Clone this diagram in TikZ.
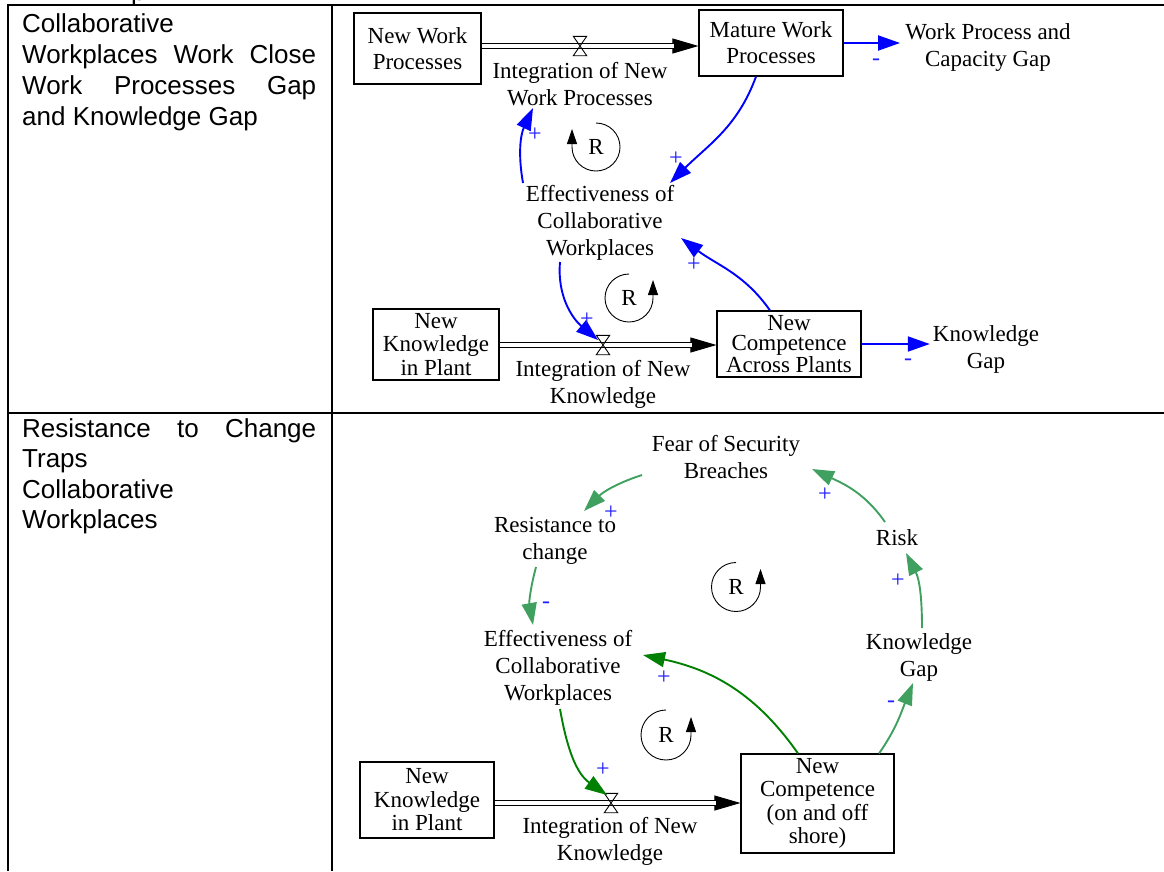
\documentclass[tikz,border=0pt]{standalone}
\usepackage{fontspec}
\setmainfont{Liberation Serif}
\newfontfamily\cellfont{Liberation Sans}
\usetikzlibrary{arrows.meta}

\definecolor{linkblue}{RGB}{0,0,255}
\definecolor{signblue}{RGB}{30,30,255}
\definecolor{linkgreen}{RGB}{64,160,96}
\definecolor{darkgreen}{RGB}{0,128,0}

% hourglass valve on a flow pipe
\newcommand\hourglassvalve[1]{%
  \draw[line width=0.9pt] (#1.north west) -- (#1.north east) -- (#1.south west) -- (#1.south east) -- cycle;}

\tikzset{
  x=1pt, y=1pt,
  var/.style={font=\fontsize{23}{27}\selectfont, align=center, inner sep=1pt},
  stock/.style={draw, line width=1.1pt, inner sep=0pt, align=center, font=\fontsize{23}{26}\selectfont},
  sign/.style={font=\fontsize{24}{24}\selectfont, text=signblue, inner sep=0pt},
  infl/.style={line width=1.9pt, -{Triangle[length=22pt,width=15pt]}},
  bluelink/.style={infl, color=linkblue},
  greenlink/.style={infl, color=linkgreen},
  dgreenlink/.style={infl, color=darkgreen},
  pipe/.style={double, double distance=3.5pt, line width=0.9pt, shorten >=24pt},
  pipetip/.style={line width=0.9pt, -{Triangle[length=26pt,width=15pt]}},
  valve/.style={inner sep=0pt, minimum width=13pt, minimum height=19pt},
  loopR/.style={font=\fontsize{23}{23}\selectfont, inner sep=0pt},
  loopmark/.style={line width=0.9pt, -{Triangle[length=15pt,width=10pt]}},
  rule/.style={line width=2pt},
  celltext/.style={font=\cellfont\fontsize{26}{31}\selectfont, anchor=base west, inner sep=0pt},
}

\begin{document}
\begin{tikzpicture}
\useasboundingbox (0,0) rectangle (1164,-871);

% table rules
\draw[rule] (7,-5) -- (1164,-5);
\draw[rule] (7,-413) -- (1164,-413);
\draw[rule] (8,-4) -- (8,-871);
\draw[rule] (332,-4) -- (332,-871);

% tail of the previous row's text
\begin{scope}
  \clip (0,0) rectangle (1164,-4);
  \node[celltext] (prevtail) at (131,0) {p};
\end{scope}

% left column texts
\node[celltext] (ta) at (22,-32) {Collaborative};
\node[celltext] (tb) at (22,-63) {\hbox to 294pt{Workplaces\hfill Work\hfill Close}};
\node[celltext] (tc) at (22,-94) {\hbox to 294pt{Work\hfill Processes\hfill Gap}};
\node[celltext] (td) at (22,-125) {and Knowledge Gap};

\node[celltext] (ba) at (22,-437) {\hbox to 294pt{Resistance\hfill to\hfill Change}};
\node[celltext] (bb) at (22,-467) {Traps};
\node[celltext] (bc) at (22,-498) {Collaborative};
\node[celltext] (bd) at (22,-528) {Workplaces};

% ---------- upper diagram ----------
\node[stock, minimum width=127pt, minimum height=71pt] (nwp) at (417.5,-48.5) {New Work\\Processes};
\node[stock, minimum width=144pt, minimum height=66pt] (mwp) at (771,-43) {Mature Work\\Processes};
\node[valve] (v1) at (580,-46) {};
\node[var] (flow1) at (580,-84) {Integration of New\\Work Processes};
\node[var] (wpgap) at (988,-47) {Work Process and\\Capacity Gap};
\node[var] (eff1) at (600,-223) {Effectiveness of\\Collaborative\\Workplaces};
\node[stock, minimum width=126pt, minimum height=71pt, font=\fontsize{23}{23.5}\selectfont] (nkp1) at (436,-344.5) {New\\Knowledge\\in Plant};
\node[stock, minimum width=144pt, minimum height=66pt, font=\fontsize{23}{20.5}\selectfont] (ncap) at (789,-344) {New\\Competence\\Across Plants};
\node[valve] (v2) at (603,-345) {};
\node[var] (flow2) at (603,-384) {Integration of New\\Knowledge};
\node[var] (kgap1) at (986,-349) {Knowledge\\Gap};
\node[loopR] (r1) at (596,-147) {R};
\node[loopR] (r2) at (629,-298) {R};

% flows
\draw[pipetip] (nwp.east |- v1.center) -- (mwp.west |- v1.center);
\draw[pipe] (nwp.east |- v1.center) -- (mwp.west |- v1.center);
\hourglassvalve{v1}
\draw[pipetip] (nkp1.east |- v2.center) -- (ncap.west |- v2.center);
\draw[pipe] (nkp1.east |- v2.center) -- (ncap.west |- v2.center);
\hourglassvalve{v2}

% causal links
\draw[bluelink, shorten >=4pt] (mwp.east) -- (mwp.east -| wpgap.west);
\draw[bluelink, shorten >=2pt] (ncap.east) -- (ncap.east -| kgap1.west);
\draw[bluelink] ([xshift=-15pt]mwp.south) to[out=-110,in=45] ([shift={(70pt,40pt)}]eff1.center);
\draw[bluelink] ([shift={(-77pt,40pt)}]eff1.center) to[out=100,in=-115] ([shift={(-47pt,-24pt)}]flow1.center);
\draw[bluelink] ([xshift=-19pt]ncap.north) to[out=125,in=-37] ([shift={(81pt,-15pt)}]eff1.center);
\draw[bluelink] ([shift={(-40pt,-39pt)}]eff1.center) to[out=-95,in=140] ([shift={(-5pt,5pt)}]v2.center);

% polarities
\node[sign] (s1) at (535,-135) {+};
\node[sign] (s2) at (676,-159) {+};
\node[sign] (s3) at (876,-62) {-};
\node[sign] (s4) at (694,-265) {+};
\node[sign] (s5) at (587,-320) {+};
\node[sign] (s6) at (908,-362) {-};

% loop markers
\draw[loopmark] ([shift={(90:24pt)}]r1.center) arc[start angle=90, end angle=-180, radius=24pt] -- ++(0,18pt);
\draw[loopmark] ([shift={(90:24pt)}]r2.center) arc[start angle=90, end angle=360, radius=24pt] -- ++(0,18pt);

% ---------- lower diagram ----------
\node[var] (fear) at (726,-457.5) {Fear of Security\\Breaches};
\node[var] (resist) at (555,-540.5) {Resistance to\\change};
\node[var] (eff2) at (558,-668) {Effectiveness of\\Collaborative\\Workplaces};
\node[var] (risk) at (897,-538) {Risk};
\node[var] (kgap2) at (919,-657.5) {Knowledge\\Gap};
\node[stock, minimum width=134pt, minimum height=76pt, font=\fontsize{23}{23.5}\selectfont] (nkp2) at (427,-800) {New\\Knowledge\\in Plant};
\node[stock, minimum width=153pt, minimum height=99pt, font=\fontsize{23}{23.3}\selectfont] (nc2) at (817.5,-803.5) {New\\Competence\\(on and off\\shore)};
\node[valve] (v3) at (611,-803) {};
\node[var] (flow3) at (610,-841.5) {Integration of New\\Knowledge};
\node[loopR] (r3) at (736,-587) {R};
\node[loopR] (r4) at (666,-735) {R};

\draw[pipetip] (nkp2.east |- v3.center) -- (nc2.west |- v3.center);
\draw[pipe] (nkp2.east |- v3.center) -- (nc2.west |- v3.center);
\hourglassvalve{v3}

\draw[greenlink] ([shift={(-84pt,-17.5pt)}]fear.center) to[out=198,in=45] ([shift={(29pt,29.5pt)}]resist.center);
\draw[greenlink] ([shift={(-19pt,-26.5pt)}]resist.center) to[out=-105,in=100] ([shift={(-25pt,43pt)}]eff2.center);
\draw[dgreenlink] ([xshift=-19.5pt]nc2.north) to[out=125,in=-12] ([shift={(85pt,13pt)}]eff2.center);
\draw[dgreenlink] ([shift={(2pt,-41pt)}]eff2.center) to[out=-80,in=145] ([shift={(-4pt,8pt)}]v3.center);
\draw[greenlink] ([xshift=61.5pt]nc2.north) to[out=55,in=-112] ([shift={(-6pt,-25.5pt)}]kgap2.center);
\draw[greenlink] ([shift={(3pt,29.5pt)}]kgap2.center) to[out=90,in=-63] ([shift={(9pt,-15pt)}]risk.center);
\draw[greenlink] ([shift={(-12pt,16pt)}]risk.center) to[out=125,in=-25] ([shift={(86pt,-11.5pt)}]fear.center);

\node[sign] (s7) at (611,-513) {+};
\node[sign] (s8) at (546,-605) {-};
\node[sign] (s9) at (664,-678) {+};
\node[sign] (s10) at (603,-770) {+};
\node[sign] (s11) at (891,-704) {-};
\node[sign] (s12) at (898,-581) {+};
\node[sign] (s13) at (825,-495) {+};

\draw[loopmark] ([shift={(90:24.5pt)}]r3.center) arc[start angle=90, end angle=360, radius=24.5pt] -- ++(0,18pt);
\draw[loopmark] ([shift={(90:25pt)}]r4.center) arc[start angle=90, end angle=360, radius=25pt] -- ++(0,18pt);
\end{tikzpicture}
\end{document}
